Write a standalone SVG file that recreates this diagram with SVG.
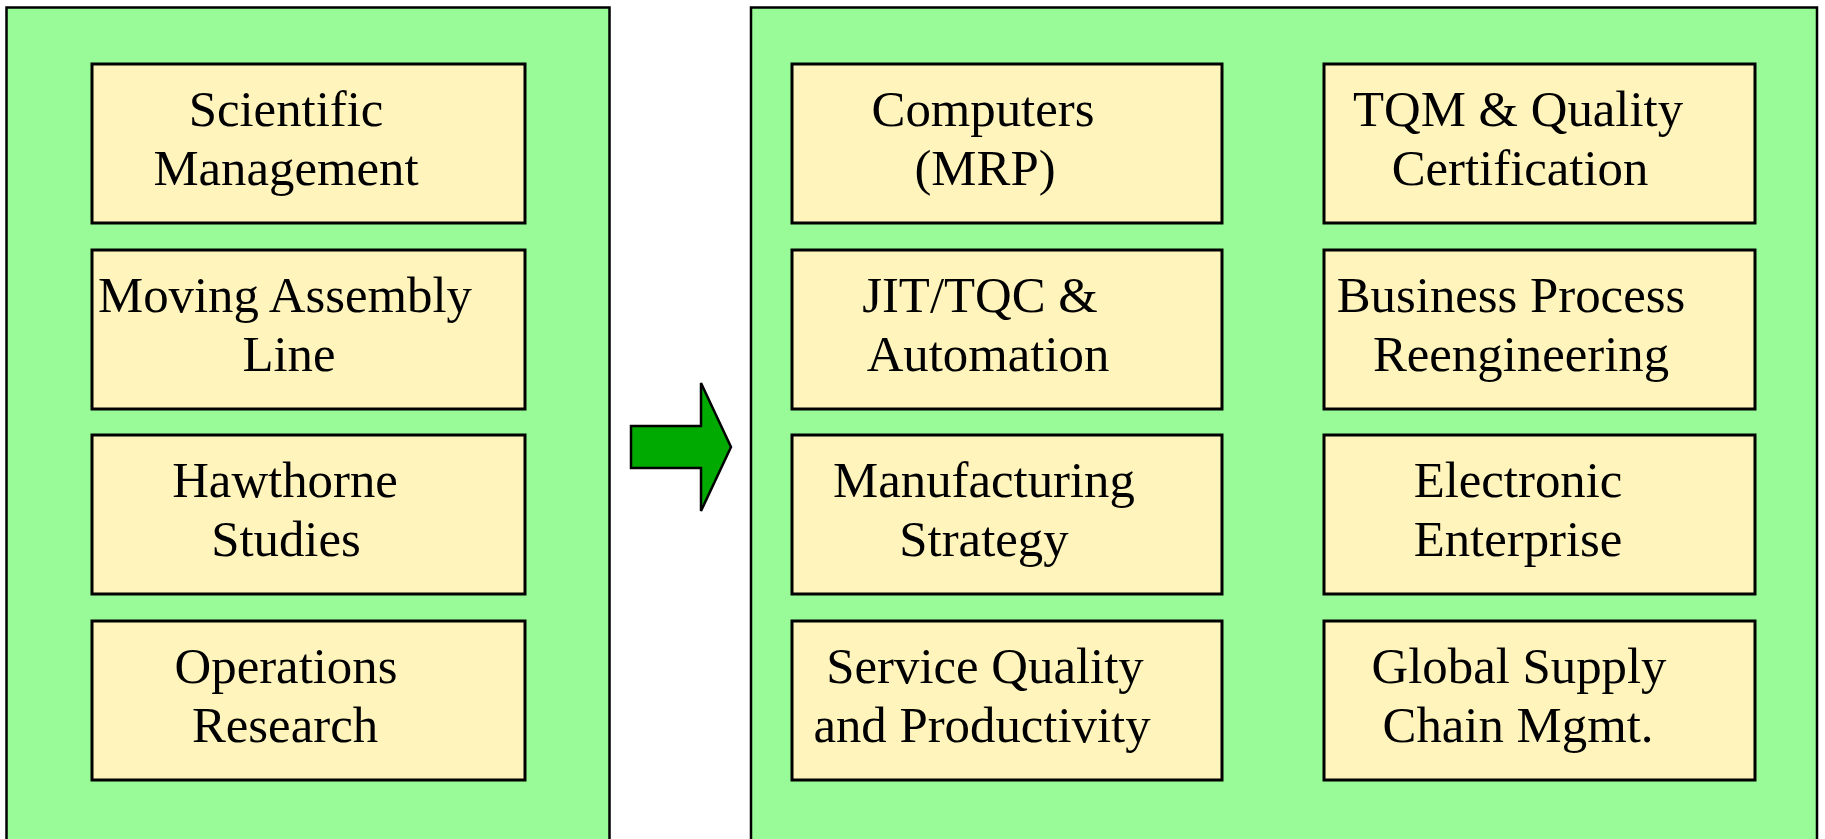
<svg xmlns="http://www.w3.org/2000/svg" width="1825" height="839" viewBox="0 0 1825 839">
<style>
.panel{fill:#98FB98;stroke:#000;stroke-width:2.5}
.box{fill:#FFF4BC;stroke:#000;stroke-width:3}
.t{font-family:"Liberation Serif","Times New Roman",serif;font-size:50.8px;fill:#000;text-anchor:middle}
.arrow{fill:#00AA00;stroke:#000;stroke-width:2.5;stroke-linejoin:miter}
</style>
<rect width="1825" height="839" fill="#fff"/>
<g id="panel-left"><rect class="panel" x="6.5" y="7.5" width="603" height="860"/></g>
<g id="panel-right"><rect class="panel" x="751" y="7.5" width="1066" height="860"/></g>
<g id="connectors">
<polygon class="arrow" points="631,426 701,426 701,383 731,447 701,511 701,468 631,468"/>
</g>
<g id="n-scientific"><rect class="box" x="92" y="64" width="433" height="159"/><text class="t"><tspan x="286" y="126">Scientific</tspan><tspan x="286" y="185">Management</tspan></text></g>
<g id="n-moving"><rect class="box" x="92" y="250" width="433" height="159"/><text class="t"><tspan x="285" y="312">Moving Assembly</tspan><tspan x="289" y="371">Line</tspan></text></g>
<g id="n-hawthorne"><rect class="box" x="92" y="435" width="433" height="159"/><text class="t"><tspan x="285" y="497">Hawthorne</tspan><tspan x="286" y="556">Studies</tspan></text></g>
<g id="n-operations"><rect class="box" x="92" y="621" width="433" height="159"/><text class="t"><tspan x="286" y="683">Operations</tspan><tspan x="285" y="742">Research</tspan></text></g>
<g id="n-computers"><rect class="box" x="792" y="64" width="430" height="159"/><text class="t"><tspan x="983" y="126">Computers</tspan><tspan x="985" y="185">(MRP)</tspan></text></g>
<g id="n-jit"><rect class="box" x="792" y="250" width="430" height="159"/><text class="t"><tspan x="980" y="312">JIT/TQC &amp;</tspan><tspan x="988" y="371">Automation</tspan></text></g>
<g id="n-manufacturing"><rect class="box" x="792" y="435" width="430" height="159"/><text class="t"><tspan x="984" y="497">Manufacturing</tspan><tspan x="984" y="556">Strategy</tspan></text></g>
<g id="n-service"><rect class="box" x="792" y="621" width="430" height="159"/><text class="t"><tspan x="985" y="683">Service Quality</tspan><tspan x="982" y="742">and Productivity</tspan></text></g>
<g id="n-tqm"><rect class="box" x="1324" y="64" width="431" height="159"/><text class="t"><tspan x="1518" y="126">TQM &amp; Quality</tspan><tspan x="1520" y="185">Certification</tspan></text></g>
<g id="n-bpr"><rect class="box" x="1324" y="250" width="431" height="159"/><text class="t"><tspan x="1511" y="312">Business Process</tspan><tspan x="1521" y="371">Reengineering</tspan></text></g>
<g id="n-electronic"><rect class="box" x="1324" y="435" width="431" height="159"/><text class="t"><tspan x="1518" y="497">Electronic</tspan><tspan x="1518" y="556">Enterprise</tspan></text></g>
<g id="n-global"><rect class="box" x="1324" y="621" width="431" height="159"/><text class="t"><tspan x="1519" y="683">Global Supply</tspan><tspan x="1518" y="742">Chain Mgmt.</tspan></text></g>
</svg>
